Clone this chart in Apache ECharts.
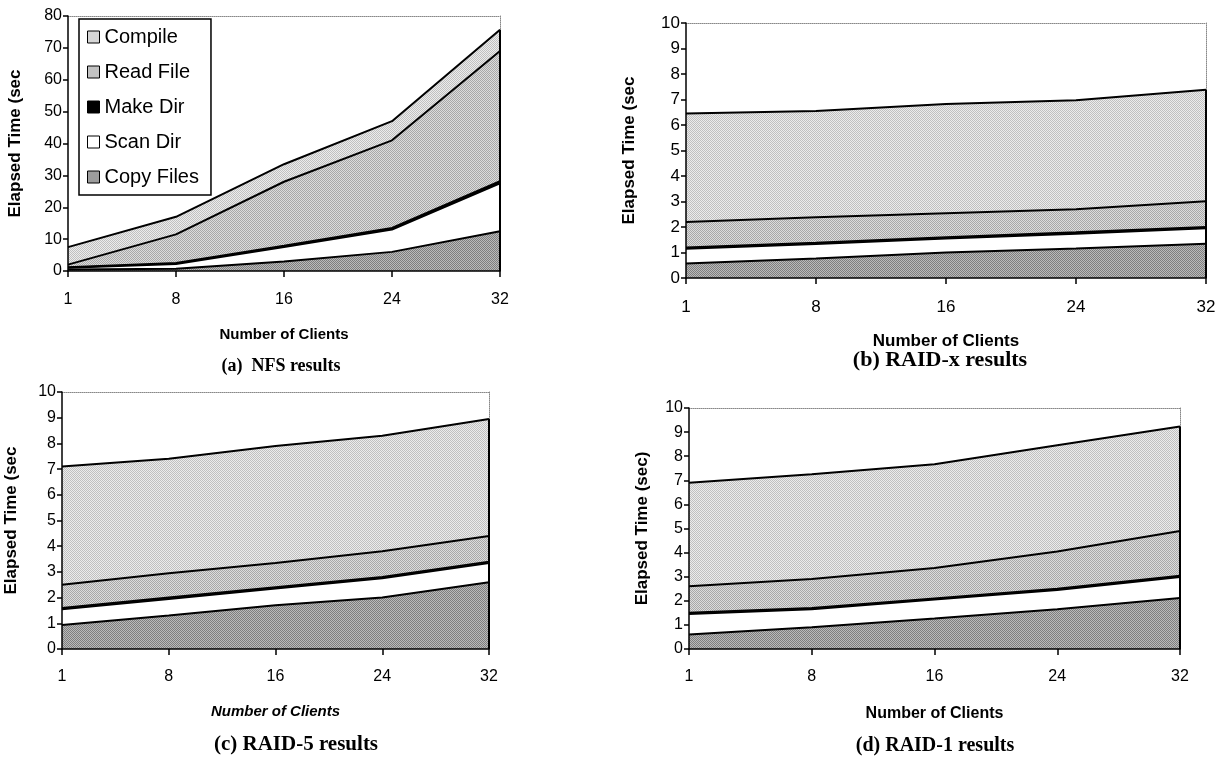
<!DOCTYPE html>
<html>
<head>
<meta charset="utf-8">
<script src="https://cdn.jsdelivr.net/npm/echarts@6/dist/echarts.min.js"></script>
<style>
html,body{margin:0;padding:0;background:#fff;}
#chart{width:1228px;height:759px;}
</style>
</head>
<body>
<div id="chart"></div>
<script>
// ---- Data ----
var categories = ['1', '8', '16', '24', '32'];
var seriesNames = ['Copy Files', 'Scan Dir', 'Make Dir', 'Read File', 'Compile'];
var legendOrder = ['Compile', 'Read File', 'Make Dir', 'Scan Dir', 'Copy Files'];

// (a) NFS
var nfsCopy    = [0.5, 0.7, 3.0, 6.0, 12.5];
var nfsScan    = [0.5, 1.5, 4.5, 7.0, 15.0];
var nfsMake    = [0.2, 0.3, 0.4, 0.5, 0.7];
var nfsRead    = [0.8, 9.0, 20.1, 27.5, 40.8];
var nfsCompile = [5.5, 5.5, 5.5, 6.0, 6.7];

// (b) RAID-x
var rxCopy    = [0.57, 0.76, 1.0, 1.16, 1.34];
var rxScan    = [0.58, 0.57, 0.55, 0.58, 0.61];
var rxMake    = [0.05, 0.05, 0.05, 0.05, 0.05];
var rxRead    = [1.0, 1.0, 0.94, 0.91, 1.01];
var rxCompile = [4.25, 4.17, 4.28, 4.27, 4.37];

// (c) RAID-5
var r5Copy    = [0.93, 1.3, 1.7, 2.0, 2.6];
var r5Scan    = [0.62, 0.65, 0.65, 0.75, 0.75];
var r5Make    = [0.05, 0.05, 0.05, 0.05, 0.05];
var r5Read    = [0.9, 0.95, 0.95, 1.0, 1.0];
var r5Compile = [4.6, 4.45, 4.55, 4.5, 4.55];

// (d) RAID-1
var r1Copy    = [0.6, 0.9, 1.27, 1.65, 2.12];
var r1Scan    = [0.85, 0.75, 0.78, 0.8, 0.87];
var r1Make    = [0.05, 0.05, 0.05, 0.05, 0.05];
var r1Read    = [1.1, 1.2, 1.26, 1.55, 1.86];
var r1Compile = [4.3, 4.35, 4.31, 4.4, 4.33];

var yMaxA = 80, yIntA = 10;
var yMaxB = 10, yIntB = 1;

var captions = ['(a)  NFS results', '(b) RAID-x results', '(c) RAID-5 results', '(d) RAID-1 results'];
var yTitles = ['Elapsed Time (sec', 'Elapsed Time (sec', 'Elapsed Time (sec', 'Elapsed Time (sec)'];
var xTitle = 'Number of Clients';

// ---- Styling / layout ----
var fills = {
  'Copy Files': '#9c9c9c',
  'Scan Dir': '#ffffff',
  'Make Dir': '#000000',
  'Read File': '#c2c2c2',
  'Compile': '#d6d6d6'
};
// two-tone halftone tiles (light, dark) approximating the scanned screen textures
var tones = {
  'Copy Files': ['#bababa', '#7e7e7e'],
  'Read File': ['#dcdcdc', '#a8a8a8'],
  'Compile': ['#ececec', '#c0c0c0']
};
function makeTile(light, dark) {
  var c = document.createElement('canvas');
  c.width = 4; c.height = 4;
  var g = c.getContext('2d');
  g.fillStyle = light; g.fillRect(0, 0, 4, 4);
  g.fillStyle = dark;
  // fixed checker-style dither
  var pts = [[0,0],[2,0],[1,1],[3,1],[0,2],[2,2],[1,3],[3,3]];
  pts.forEach(function (q) { g.fillRect(q[0], q[1], 1, 1); });
  return c;
}
function areaFill(name) {
  if (tones[name]) return {image: makeTile(tones[name][0], tones[name][1]), repeat: 'repeat'};
  return fills[name];
}

var panels = [
  {data: [nfsCopy, nfsScan, nfsMake, nfsRead, nfsCompile], max: yMaxA, interval: yIntA,
   grid: {left: 68, top: 16, width: 432, height: 255}, tickFont: 16, xNameGap: 56, yNameGap: 44, yNameSize: 17,
   xLabelMargin: 21, xNameSize: 15, xItalic: 'normal', cap: {x: 276, y: 352, size: 18}},
  {data: [rxCopy, rxScan, rxMake, rxRead, rxCompile], max: yMaxB, interval: yIntB,
   grid: {left: 686, top: 23, width: 520, height: 255}, tickFont: 17, xNameGap: 55, yNameGap: 48, yNameSize: 17,
   xLabelMargin: 21, xNameSize: 17, xItalic: 'normal', cap: {x: 935, y: 344, size: 22}},
  {data: [r5Copy, r5Scan, r5Make, r5Read, r5Compile], max: yMaxB, interval: yIntB,
   grid: {left: 62, top: 392, width: 427, height: 257}, tickFont: 16, xNameGap: 55, yNameGap: 42, yNameSize: 17,
   xLabelMargin: 20, xNameSize: 15, xItalic: 'italic', cap: {x: 291, y: 729, size: 21}},
  {data: [r1Copy, r1Scan, r1Make, r1Read, r1Compile], max: yMaxB, interval: yIntB,
   grid: {left: 689, top: 408, width: 491, height: 241}, tickFont: 16, xNameGap: 57, yNameGap: 38, yNameSize: 17,
   xLabelMargin: 20, xNameSize: 16, xItalic: 'normal', cap: {x: 930, y: 731, size: 20}}
];

var SANS = 'Liberation Sans, Arial, sans-serif';
var SERIF = 'Liberation Serif, Times New Roman, serif';

var option = {
  animation: false,
  backgroundColor: '#ffffff',
  grid: [], xAxis: [], yAxis: [], series: [], title: []
};

panels.forEach(function (p, i) {
  option.grid.push({left: p.grid.left, top: p.grid.top, width: p.grid.width, height: p.grid.height, show: false});
  option.xAxis.push({
    type: 'category', gridIndex: i, data: categories, boundaryGap: false,
    name: xTitle, nameLocation: 'middle', nameGap: p.xNameGap,
    nameTextStyle: {fontFamily: SANS, fontWeight: 'bold', fontStyle: p.xItalic, fontSize: p.xNameSize, color: '#000'},
    axisLine: {show: true, lineStyle: {color: '#000', width: 1.5}},
    axisTick: {show: true, inside: false, length: 6, lineStyle: {color: '#000', width: 1.5}},
    axisLabel: {fontFamily: SANS, fontSize: p.tickFont, color: '#000', margin: p.xLabelMargin},
    splitLine: {show: false}, z: 5
  });
  option.xAxis.push({
    type: 'category', gridIndex: i, data: categories, boundaryGap: false, position: 'top',
    axisLine: {show: true, onZero: false, lineStyle: {color: '#888', width: 1, type: 'dotted'}},
    axisTick: {show: false}, axisLabel: {show: false}, splitLine: {show: false}
  });
  option.yAxis.push({
    type: 'value', gridIndex: i, min: 0, max: p.max, interval: p.interval,
    name: yTitles[i], nameLocation: 'middle', nameGap: p.yNameGap, nameRotate: 90,
    nameTextStyle: {fontFamily: SANS, fontWeight: 'bold', fontSize: p.yNameSize, color: '#000'},
    axisLine: {show: true, lineStyle: {color: '#000', width: 1.5}},
    axisTick: {show: true, inside: false, length: 5, lineStyle: {color: '#000', width: 1.5}},
    axisLabel: {fontFamily: SANS, fontSize: p.tickFont, color: '#000', margin: 6},
    splitLine: {show: false}, z: 5
  });
  option.yAxis.push({
    type: 'value', gridIndex: i, min: 0, max: p.max, interval: p.interval, position: 'right',
    axisLine: {show: true, onZero: false, lineStyle: {color: '#888', width: 1, type: 'dotted'}},
    axisTick: {show: false}, axisLabel: {show: false}, splitLine: {show: false}
  });

  var totals = categories.map(function (c, k) {
    var s = 0; p.data.forEach(function (arr) { s += arr[k]; }); return s;
  });

  seriesNames.forEach(function (name, j) {
    var s = {
      name: name, type: 'line', stack: 'panel' + i,
      xAxisIndex: i * 2, yAxisIndex: i * 2,
      data: p.data[j], showSymbol: false, symbol: 'none',
      lineStyle: {color: '#000', width: 2},
      itemStyle: {color: fills[name]},
      areaStyle: {color: areaFill(name), opacity: 1},
      emphasis: {disabled: true},
      silent: true, z: 2
    };
    if (name === 'Compile') {
      s.markLine = {
        symbol: 'none', silent: true, label: {show: false},
        lineStyle: {color: '#000', width: 2, type: 'solid'},
        data: [[{coord: [categories[categories.length - 1], 0]},
                {coord: [categories[categories.length - 1], totals[totals.length - 1]]}]]
      };
    }
    option.series.push(s);
  });

  option.title.push({
    text: captions[i], left: p.cap.x, top: p.cap.y, textAlign: 'center',
    textStyle: {fontFamily: SERIF, fontWeight: 'bold', fontSize: p.cap.size, color: '#000'}
  });
});

option.legend = {
  show: true, orient: 'vertical', left: 79, top: 19,
  padding: [8, 12, 8, 8], itemWidth: 12, itemHeight: 12, itemGap: 15,
  backgroundColor: '#ffffff', borderColor: '#000', borderWidth: 1.5,
  selectedMode: false, icon: 'rect',
  textStyle: {fontFamily: SANS, fontSize: 20, color: '#000', lineHeight: 20},
  data: legendOrder.map(function (n) {
    return {name: n, icon: 'rect', itemStyle: {color: fills[n], borderColor: '#000', borderWidth: 1}};
  }),
  z: 10
};

var chart = echarts.init(document.getElementById('chart'), null, {renderer: 'canvas'});
chart.setOption(option);
</script>
</body>
</html>
